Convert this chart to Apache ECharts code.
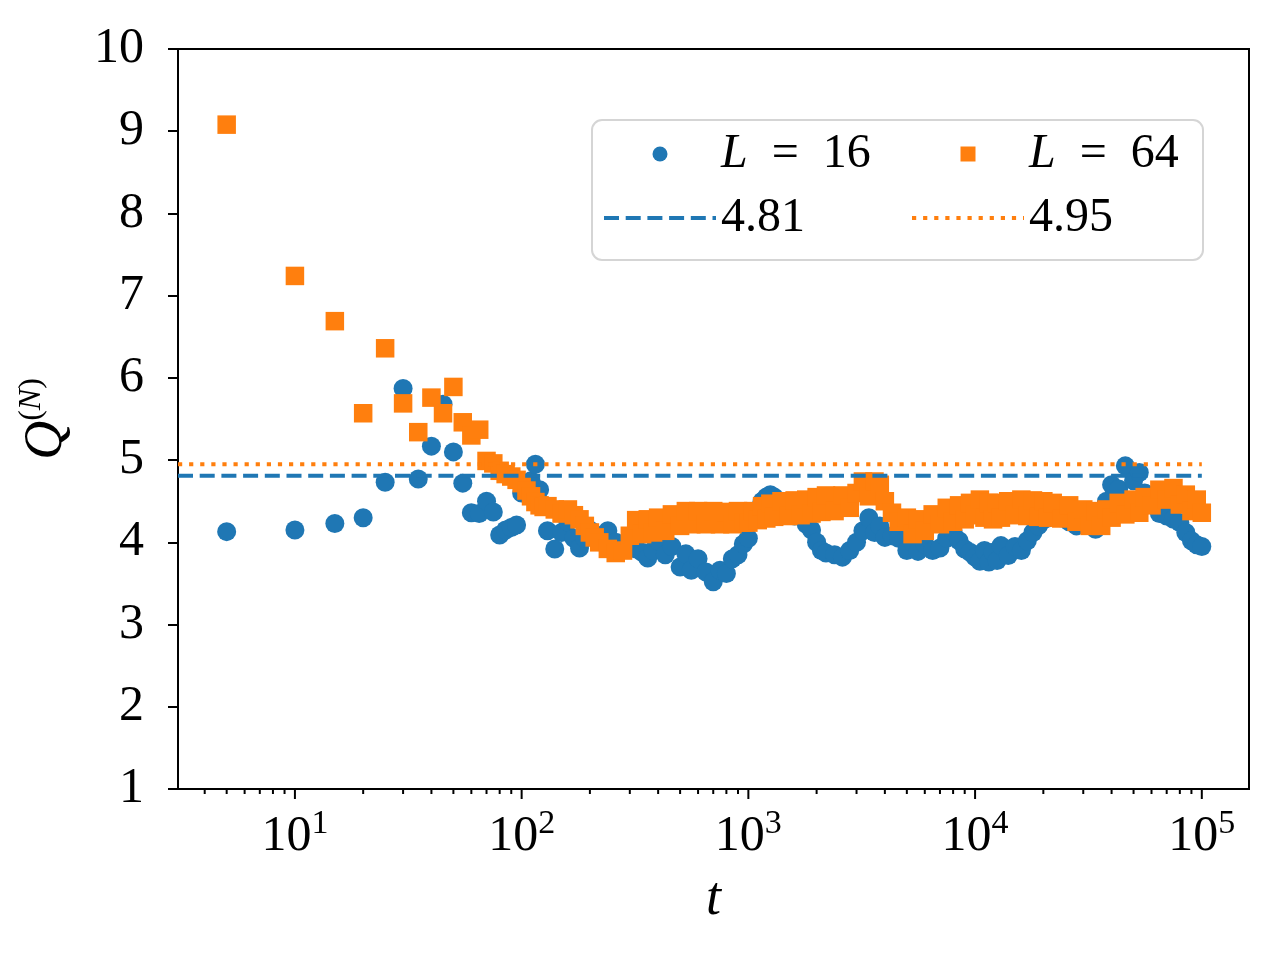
<!doctype html>
<html>
<head>
<meta charset="utf-8">
<title>Q(N) against t</title>
<script src="https://cdn.jsdelivr.net/npm/echarts@6/dist/echarts.min.js"></script>
<style>html, body { margin: 0; background: #fff; }</style>
</head>
<body>
<div id="chart" style="width: 1280px; height: 960px;"></div>
<script>
// times (log axis) and the two measured series
var tValues = [
    5, 10, 15, 20, 25, 30, 35, 40, 45, 50, 55, 60, 65, 70, 75, 80, 85, 90, 95,
    100, 105, 110, 115, 120, 125, 130, 140, 150, 160, 170, 180, 190, 200, 210, 220, 240, 260, 280,
    300, 320, 340, 360, 380, 400, 430, 460, 500, 530, 560, 600, 650, 700, 750, 800, 850, 900, 950,
    1000, 1050, 1100, 1150, 1200, 1250, 1300, 1400, 1500, 1600, 1700, 1800, 1900, 2000, 2100, 2200, 2400, 2600, 2800,
    3000, 3200, 3400, 3600, 3800, 4000, 4300, 4600, 5000, 5300, 5600, 6000, 6500, 7000, 7500, 8000, 8500, 9000, 9500,
    10000, 10500, 11000, 11500, 12000, 12500, 13000, 14000, 15000, 16000, 17000, 18000, 19000, 20000, 21000, 22000, 24000, 26000, 28000,
    30000, 32000, 34000, 36000, 38000, 40000, 43000, 46000, 50000, 53000, 56000, 60000, 65000, 70000, 75000, 80000, 85000, 90000, 95000,
    100000
];
var qL16 = [
    4.13, 4.15, 4.23, 4.30, 4.73, 5.87, 4.77, 5.17, 5.68, 5.10, 4.72, 4.36, 4.35, 4.50, 4.37, 4.09, 4.15, 4.18, 4.21,
    4.60, 4.65, 4.75, 4.95, 4.64, 4.45, 4.14, 3.92, 4.12, 4.25, 4.05, 3.93, 4.05, 4.15, 4.10, 4.05, 4.14, 4.00, 3.95,
    3.98, 3.92, 3.88, 3.81, 3.90, 4.02, 3.85, 3.95, 3.70, 3.86, 3.66, 3.80, 3.64, 3.52, 3.66, 3.62, 3.80, 3.85, 3.98,
    4.05, 4.28, 4.40, 4.50, 4.55, 4.58, 4.55, 4.50, 4.48, 4.32, 4.40, 4.22, 4.15, 4.00, 3.90, 3.87, 3.85, 3.82, 3.90,
    4.00, 4.14, 4.30, 4.12, 4.20, 4.06, 4.08, 4.05, 3.90, 4.00, 3.89, 3.98, 3.90, 3.93, 4.05, 4.13, 4.02, 3.92, 3.88,
    3.82, 3.77, 3.90, 3.76, 3.88, 3.78, 3.96, 3.84, 3.95, 3.90, 4.02, 4.12, 4.20, 4.27, 4.30, 4.32, 4.30, 4.25, 4.20,
    4.33, 4.38, 4.16, 4.33, 4.50, 4.70, 4.65, 4.93, 4.75, 4.85, 4.60, 4.48, 4.35, 4.32, 4.28, 4.24, 4.12, 4.02, 3.97,
    3.95
];
var qL64 = [
    9.08, 7.24, 6.69, 5.57, 6.36, 5.69, 5.34, 5.76, 5.57, 5.89, 5.46, 5.30, 5.37, 4.99, 4.96, 4.87, 4.83, 4.80, 4.76,
    4.72, 4.63, 4.56, 4.49, 4.45, 4.43, 4.44, 4.40, 4.35, 4.40, 4.33, 4.28, 4.20, 4.12, 4.06, 4.00, 3.92, 3.87, 3.90,
    4.08, 4.27, 4.10, 4.28, 4.12, 4.30, 4.14, 4.34, 4.20, 4.38, 4.22, 4.38, 4.22, 4.38, 4.22, 4.37, 4.22, 4.38, 4.24,
    4.24, 4.38, 4.27, 4.44, 4.29, 4.47, 4.31, 4.50, 4.32, 4.51, 4.33, 4.52, 4.35, 4.55, 4.37, 4.57, 4.38, 4.57, 4.42,
    4.60, 4.74, 4.56, 4.74, 4.70, 4.50, 4.36, 4.25, 4.30, 4.10, 4.28, 4.14, 4.34, 4.22, 4.42, 4.25, 4.45, 4.28, 4.48,
    4.33, 4.52, 4.30, 4.48, 4.28, 4.48, 4.30, 4.50, 4.33, 4.52, 4.32, 4.51, 4.31, 4.50, 4.30, 4.48, 4.29, 4.45, 4.25,
    4.40, 4.20, 4.38, 4.20, 4.40, 4.30, 4.48, 4.34, 4.52, 4.36, 4.55, 4.45, 4.64, 4.52, 4.66, 4.46, 4.58, 4.38, 4.52,
    4.36
];
var fitL16 = 4.81;
var fitL64 = 4.95;

var majorTicks = [10, 100, 1000, 10000, 100000];
var minorTicks = [4, 5, 6, 7, 8, 9,
    20, 30, 40, 50, 60, 70, 80, 90,
    200, 300, 400, 500, 600, 700, 800, 900,
    2000, 3000, 4000, 5000, 6000, 7000, 8000, 9000,
    20000, 30000, 40000, 50000, 60000, 70000, 80000, 90000];

var nameL16 = 'L\u2002=\u200216';
var nameL64 = 'L\u2002=\u200264';

var xMin = 3.05, xMax = 161500, yMin = 1, yMax = 10;
var serif = '"Liberation Serif", "DejaVu Serif", serif';
var blue = '#1f77b4', orange = '#ff7f0e';
var dash16 = [15, 6.7], dot64 = [4.2, 6.9];

function pairs(ys) {
    return tValues.map(function (t, i) { return [t, ys[i]]; });
}
function tickSeries(values, h) {
    return {
        type: 'scatter',
        data: values.map(function (v) { return [v, yMin]; }),
        symbol: 'rect',
        symbolSize: [2, h],
        symbolOffset: [0, h / 2],
        itemStyle: { color: '#000', opacity: 1 },
        clip: false,
        silent: true,
        z: 6
    };
}

var legendText = {
    fontFamily: serif, fontSize: 48, lineHeight: 56, color: '#000',
    rich: { i: { fontFamily: serif, fontStyle: 'italic', fontSize: 48, lineHeight: 56, color: '#000' } }
};
function legendFormat(name) {
    return name.charAt(0) === 'L' ? '{i|L}' + name.slice(1) : name;
}

var chart = echarts.init(document.getElementById('chart'));
var option = {
    animation: false,
    backgroundColor: '#fff',
    grid: { left: 178, right: 31, top: 49, bottom: 171, show: true, borderColor: '#000', borderWidth: 2 },
    xAxis: {
        type: 'log', logBase: 10, min: xMin, max: xMax,
        axisLine: { show: true, lineStyle: { color: '#000', width: 2 } },
        axisTick: { show: false },
        splitLine: { show: false },
        axisLabel: {
            margin: 18,
            formatter: function (v) {
                var k = Math.log10(v);
                if (Math.abs(k - Math.round(k)) > 1e-6) return '';
                return '{b|10}{s|' + Math.round(k) + '}';
            },
            rich: {
                b: { fontFamily: serif, fontSize: 50, lineHeight: 60, color: '#000' },
                s: { fontFamily: serif, fontSize: 34, lineHeight: 34, verticalAlign: 'top', color: '#000' }
            }
        },
        name: 't', nameLocation: 'middle', nameGap: 84,
        nameTextStyle: { fontFamily: serif, fontStyle: 'italic', fontSize: 54, color: '#000' }
    },
    yAxis: {
        type: 'value', min: yMin, max: yMax, interval: 1,
        axisLine: { show: true, lineStyle: { color: '#000', width: 2 } },
        axisTick: { show: true, length: 10, lineStyle: { color: '#000', width: 2 } },
        splitLine: { show: false },
        axisLabel: { fontFamily: serif, fontSize: 50, color: '#000', margin: 34 },
        name: '{q|Q}{p|(}{n|N}{p|)}', nameLocation: 'middle', nameRotate: 90, nameGap: 100,
        nameTextStyle: {
            rich: {
                q: { fontFamily: serif, fontStyle: 'italic', fontSize: 54, lineHeight: 62, color: '#000' },
                p: { fontFamily: serif, fontSize: 32, lineHeight: 34, verticalAlign: 'top', color: '#000' },
                n: { fontFamily: serif, fontStyle: 'italic', fontSize: 32, lineHeight: 34, verticalAlign: 'top', color: '#000' }
            }
        }
    },
    legend: [
        {
            data: [
                { name: nameL16, icon: 'circle' },
                { name: '4.81', itemStyle: { opacity: 0 }, lineStyle: { color: blue, width: 4, type: dash16, cap: 'butt' } }
            ],
            orient: 'vertical', left: 602, top: 126, padding: 0,
            itemWidth: 112, itemHeight: 15, itemGap: 8, selectedMode: false,
            textStyle: legendText, formatter: legendFormat
        },
        {
            data: [
                { name: nameL64, icon: 'path://M0,0L10,0L10,10L0,10Z' },
                { name: '4.95', itemStyle: { opacity: 0 }, lineStyle: { color: orange, width: 4, type: dot64, cap: 'butt' } }
            ],
            orient: 'vertical', left: 910, top: 126, padding: 0,
            itemWidth: 112, itemHeight: 15, itemGap: 8, selectedMode: false,
            textStyle: legendText, formatter: legendFormat
        }
    ],
    graphic: [{
        type: 'rect', z: 3,
        shape: { x: 592, y: 120, width: 611, height: 140, r: 10 },
        style: { fill: 'rgba(255,255,255,0.8)', stroke: '#d5d5d5', lineWidth: 2 }
    }],
    series: [
        {
            name: nameL16, type: 'scatter', data: pairs(qL16),
            symbol: 'circle', symbolSize: 19,
            itemStyle: { color: blue, opacity: 1 }, z: 2
        },
        {
            name: nameL64, type: 'scatter', data: pairs(qL64),
            symbol: 'rect', symbolSize: 18.5,
            itemStyle: { color: orange, opacity: 1 }, z: 2
        },
        {
            name: '4.81', type: 'line', symbol: 'none', silent: true,
            data: [[xMin, fitL16], [tValues[tValues.length - 1], fitL16]],
            lineStyle: { color: blue, width: 4, type: dash16, cap: 'butt' },
            itemStyle: { color: blue }, z: 3
        },
        {
            name: '4.95', type: 'line', symbol: 'none', silent: true,
            data: [[xMin, fitL64], [tValues[tValues.length - 1], fitL64]],
            lineStyle: { color: orange, width: 4, type: dot64, cap: 'butt' },
            itemStyle: { color: orange }, z: 3
        },
        tickSeries(majorTicks, 10),
        tickSeries(minorTicks, 5)
    ]
};
chart.setOption(option);
</script>
</body>
</html>
